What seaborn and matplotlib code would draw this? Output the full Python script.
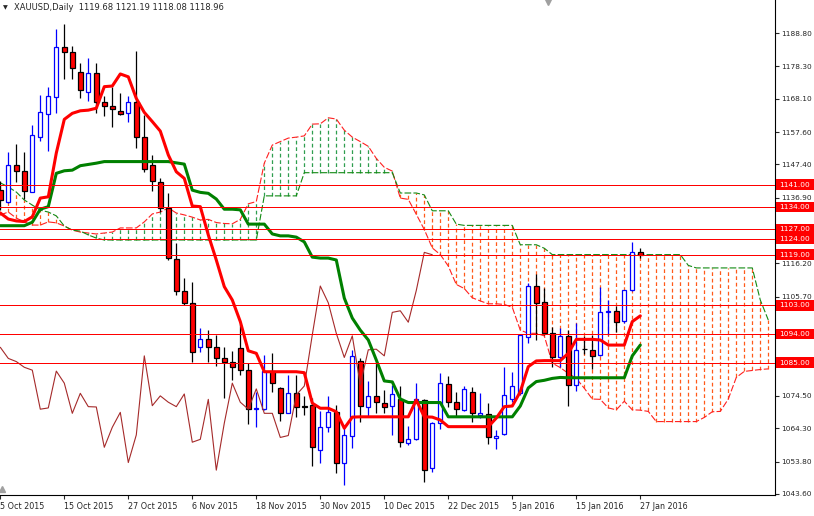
import matplotlib
matplotlib.use("Agg")
import matplotlib.pyplot as plt
import matplotlib.transforms as mtransforms
from matplotlib.patches import Rectangle
import seaborn as sns
import numpy as np

sns.set_style("white")
plt.rcParams['font.family'] = ['DejaVu Sans']

# daily XAUUSD bars, 5 Oct 2015 .. 27 Jan 2016
date_labels = ["5 Oct 2015", "15 Oct 2015", "27 Oct 2015", "6 Nov 2015", "18 Nov 2015",
               "30 Nov 2015", "10 Dec 2015", "22 Dec 2015", "5 Jan 2016", "15 Jan 2016",
               "27 Jan 2016"]

opens = [1139.4, 1135.7, 1147.1, 1145.2, 1138.8, 1155.9, 1163.2, 1168.5, 1184.3, 1182.7,
         1176.5, 1170.3, 1176.2, 1167.1, 1165.8, 1164.3, 1163.5, 1167.0, 1155.9, 1147.1,
         1141.8, 1133.6, 1117.5, 1107.6, 1103.7, 1090.0, 1092.3, 1089.8, 1086.3, 1085.1,
         1089.5, 1082.6, 1070.5, 1070.4, 1082.3, 1076.9, 1069.0, 1075.3, 1071.2, 1071.6,
         1057.4, 1064.8, 1069.3, 1053.2, 1062.0, 1085.6, 1071.1, 1074.5, 1072.4, 1071.4,
         1073.4, 1059.5, 1060.8, 1073.2, 1051.7, 1065.9, 1078.1, 1072.5, 1070.0, 1075.6,
         1068.6, 1068.7, 1061.1, 1062.4, 1073.4, 1075.5, 1093.1, 1109.1, 1104.0, 1094.2,
         1086.8, 1093.4, 1078.0, 1089.3, 1089.0, 1087.4, 1100.8, 1101.2, 1098.0, 1107.7,
         1119.68]
highs = [1142.2, 1151.2, 1153.8, 1151.3, 1159.8, 1169.3, 1171.7, 1190.1, 1191.6, 1184.7,
         1179.3, 1180.9, 1179.4, 1169.0, 1171.7, 1169.8, 1169.0, 1183.1, 1163.0, 1150.4,
         1143.2, 1138.3, 1122.6, 1111.5, 1110.5, 1095.8, 1095.2, 1093.7, 1090.0, 1088.6,
         1097.1, 1084.8, 1075.8, 1087.4, 1088.1, 1077.2, 1081.1, 1081.1, 1074.5, 1073.7,
         1069.7, 1074.5, 1071.6, 1065.3, 1089.0, 1086.3, 1079.2, 1084.8, 1076.5, 1077.9,
         1077.6, 1065.0, 1078.5, 1073.5, 1066.4, 1081.6, 1080.8, 1075.8, 1077.6, 1077.4,
         1075.5, 1072.1, 1063.7, 1083.7, 1082.1, 1093.8, 1110.2, 1112.8, 1108.4, 1096.3,
         1095.8, 1095.2, 1097.3, 1093.4, 1093.7, 1108.7, 1104.7, 1102.8, 1107.8, 1123.1,
         1121.19]
lows = [1133.0, 1135.2, 1141.8, 1136.5, 1138.7, 1154.9, 1151.7, 1163.5, 1174.4, 1174.4,
        1168.3, 1167.5, 1163.7, 1162.7, 1159.1, 1163.0, 1160.9, 1152.5, 1145.1, 1139.1,
        1132.5, 1117.3, 1106.3, 1103.1, 1085.1, 1088.4, 1085.1, 1084.0, 1073.9, 1079.5,
        1081.1, 1065.5, 1064.8, 1070.2, 1075.8, 1066.7, 1069.0, 1067.7, 1068.5, 1052.5,
        1053.2, 1063.2, 1050.3, 1046.4, 1058.0, 1066.4, 1068.3, 1069.0, 1069.2, 1062.2,
        1058.5, 1059.0, 1060.5, 1047.5, 1050.6, 1064.0, 1071.1, 1068.3, 1069.8, 1066.4,
        1067.4, 1059.2, 1057.7, 1062.2, 1072.7, 1074.8, 1091.2, 1092.1, 1093.7, 1083.5,
        1083.5, 1071.3, 1076.1, 1087.7, 1083.0, 1087.2, 1093.7, 1094.7, 1097.3, 1107.5,
        1118.08]
closes = [1136.2, 1147.1, 1145.2, 1138.9, 1156.7, 1163.9, 1168.9, 1184.3, 1182.9, 1177.7,
          1170.8, 1176.2, 1167.0, 1165.7, 1164.8, 1163.2, 1167.0, 1155.9, 1145.9, 1142.1,
          1133.6, 1117.8, 1107.6, 1103.7, 1088.4, 1092.3, 1089.8, 1086.3, 1085.3, 1083.5,
          1082.6, 1070.3, 1070.7, 1082.3, 1078.5, 1069.0, 1075.3, 1071.1, 1071.0, 1058.3,
          1064.6, 1069.3, 1053.5, 1062.2, 1087.1, 1071.4, 1074.5, 1072.5, 1071.1, 1075.1,
          1059.9, 1060.8, 1073.4, 1051.1, 1065.9, 1078.5, 1072.5, 1070.3, 1076.7, 1069.0,
          1069.0, 1061.4, 1062.0, 1074.8, 1077.6, 1093.7, 1109.1, 1103.8, 1094.2, 1086.6,
          1093.4, 1078.0, 1089.0, 1089.2, 1087.1, 1100.8, 1101.3, 1097.7, 1107.7, 1119.7,
          1118.96]

# ichimoku lines
tenkan = [1132.1, 1130.2, 1129.6, 1129.4, 1130.9, 1136.8, 1137.2, 1151.0, 1161.6, 1163.5,
          1164.3, 1164.5, 1165.1, 1171.9, 1172.1, 1175.9, 1175.0, 1168.2, 1163.8, 1160.9,
          1157.9, 1150.4, 1145.1, 1143.0, 1134.3, 1134.1, 1125.2, 1117.3, 1108.9, 1104.7,
          1097.9, 1088.7, 1087.9, 1082.1, 1082.1, 1082.1, 1082.1, 1082.1, 1081.8, 1072.2,
          1070.6, 1070.6, 1069.5, 1064.3, 1067.8, 1067.9, 1067.9, 1067.9, 1067.9, 1067.9,
          1067.9, 1067.9, 1073.2, 1067.9, 1067.8, 1066.9, 1064.8, 1064.8, 1064.8, 1064.8,
          1064.8, 1064.8, 1067.5, 1071.1, 1071.3, 1075.8, 1083.7, 1085.5, 1085.6, 1085.6,
          1085.6, 1087.9, 1092.3, 1092.3, 1092.3, 1092.1, 1090.5, 1090.5, 1090.5, 1097.9,
          1099.7]
kijun = [1128.1, 1128.1, 1128.1, 1128.1, 1129.2, 1133.3, 1134.1, 1144.6, 1145.4, 1145.6,
         1147.0, 1147.4, 1147.8, 1148.3, 1148.3, 1148.3, 1148.3, 1148.3, 1148.3, 1148.3,
         1148.3, 1148.3, 1147.9, 1147.5, 1139.3, 1138.6, 1138.3, 1136.5, 1133.3, 1133.3,
         1133.1, 1128.6, 1128.6, 1128.6, 1125.5, 1124.9, 1124.9, 1124.5, 1123.0, 1118.2,
         1117.9, 1117.9, 1117.3, 1105.3, 1099.0, 1095.2, 1092.1, 1085.8, 1079.2, 1078.9,
         1073.5, 1072.4, 1072.4, 1072.4, 1072.4, 1072.4, 1067.9, 1067.9, 1067.9, 1067.9,
         1067.9, 1067.9, 1067.9, 1067.9, 1067.9, 1071.3, 1077.0, 1079.0, 1079.4, 1080.0,
         1080.3, 1080.2, 1080.2, 1080.2, 1080.2, 1080.2, 1080.2, 1080.2, 1080.2, 1087.1,
         1090.5]
span_a = [1131.5, 1132.4, 1130.5, 1129.3, 1128.3, 1128.3, 1129.3, 1129.0, 1128.0, 1126.7,
          1126.1, 1125.8, 1125.5, 1125.8, 1126.1, 1127.4, 1127.4, 1127.4, 1129.3, 1131.8,
          1132.4, 1133.7, 1132.1, 1131.5, 1130.8, 1129.9, 1130.1, 1129.1, 1128.8, 1128.7,
          1130.1, 1135.0, 1135.7, 1147.8, 1153.5, 1154.6, 1155.7, 1156.0, 1156.4, 1160.1,
          1160.2, 1162.1, 1161.7, 1158.2, 1156.0, 1154.6, 1153.1, 1149.3, 1146.5, 1145.3,
          1136.8, 1136.4, 1131.7, 1126.9, 1121.1, 1119.0, 1115.4, 1109.6, 1108.3, 1105.4,
          1104.4, 1103.5, 1103.5, 1103.3, 1102.4, 1095.2, 1094.2, 1094.2, 1093.4, 1084.8,
          1083.4, 1081.6, 1080.0, 1076.9, 1073.5, 1073.4, 1070.7, 1070.1, 1072.8, 1070.1,
          1070.0, 1069.6, 1066.4, 1066.4, 1066.4, 1066.4, 1066.4, 1066.4, 1067.7, 1069.5,
          1069.6, 1073.5, 1080.3, 1082.2, 1082.5, 1082.8, 1083.0]
span_b = [1141.6, 1140.3, 1138.7, 1136.2, 1134.6, 1133.0, 1132.4, 1131.2, 1128.0, 1126.7,
          1126.4, 1125.2, 1124.2, 1123.6, 1123.6, 1123.6, 1123.6, 1123.6, 1123.6, 1123.6,
          1123.6, 1123.6, 1123.6, 1123.6, 1123.6, 1123.6, 1123.6, 1123.6, 1123.6, 1123.6,
          1123.6, 1123.6, 1123.6, 1137.5, 1137.5, 1137.5, 1137.5, 1137.5, 1144.8, 1144.8,
          1144.8, 1144.8, 1144.8, 1144.8, 1144.8, 1144.8, 1144.8, 1144.8, 1144.8, 1144.8,
          1138.4, 1138.4, 1138.4, 1137.8, 1132.8, 1132.8, 1132.8, 1128.6, 1128.2, 1128.2,
          1128.2, 1128.2, 1128.2, 1128.2, 1128.2, 1122.1, 1122.1, 1122.1, 1121.0, 1119.0,
          1119.0, 1119.0, 1119.0, 1119.0, 1119.0, 1119.0, 1119.0, 1119.0, 1119.0, 1119.0,
          1119.0, 1119.0, 1119.0, 1119.0, 1119.0, 1119.0, 1115.6, 1114.8, 1114.8, 1114.8,
          1114.8, 1114.8, 1114.8, 1114.8, 1114.8, 1104.7, 1098.4]

levels = [1141.0, 1134.0, 1127.0, 1124.0, 1119.0, 1103.0, 1094.0, 1085.0]
price_ticks = [1188.8, 1178.3, 1168.1, 1157.6, 1147.4, 1136.9, 1126.4, 1116.2, 1105.7,
               1095.2, 1085.0, 1074.5, 1064.3, 1053.8, 1043.6]
# these three sit under the level boxes in the original
hidden_ticks = [1126.4, 1095.2, 1085.0]

o = np.array(opens); h = np.array(highs); l = np.array(lows); c = np.array(closes)
bars = np.arange(len(c))
fut = np.arange(len(span_a))

fig = plt.figure(figsize=(8.14, 5.16), dpi=100)
ax = fig.add_axes([0, 21/516, 775/814, 495/516])

# cloud: dotted histogram between the two spans
for i in fut:
    a, b = span_a[i], span_b[i]
    col = '#2f9e4f' if a > b else '#ff5a1a'
    ax.vlines(i, min(a, b), max(a, b), colors=col, lw=0.9, linestyles=(0, (3, 2.2)), zorder=1)
sns.lineplot(x=fut, y=span_a, ax=ax, color='#ff2020', lw=0.8, linestyle=(0, (6, 2)), zorder=2)
sns.lineplot(x=fut, y=span_b, ax=ax, color='#138a13', lw=0.8, linestyle=(0, (6, 2)), zorder=2)

# candles
up = c >= o
ax.vlines(bars[up], l[up], h[up], colors='blue', lw=0.9, zorder=3)
ax.vlines(bars[~up], l[~up], h[~up], colors='black', lw=0.9, zorder=3)
ax.bar(bars[up], (c - o)[up], bottom=o[up], width=0.55, color='white',
       edgecolor='blue', lw=0.9, zorder=4)
ax.bar(bars[~up], (o - c)[~up], bottom=c[~up], width=0.6, color='red',
       edgecolor='black', lw=0.9, zorder=4)

# chikou = close shifted back 26 bars
sns.lineplot(x=bars[:-26], y=c[26:], ax=ax, color='#a52a2a', lw=0.8, zorder=5)
sns.lineplot(x=bars, y=kijun, ax=ax, color='#008000', lw=2.2, zorder=6)
sns.lineplot(x=bars, y=tenkan, ax=ax, color='#ff0000', lw=2.2, zorder=6)

for lv in levels:
    ax.axhline(lv, color='#ff0000', lw=0.5, antialiased=False, zorder=7)

ax.set_xlim(-0.0375, 96.84)
ax.set_ylim(1043.27, 1199.2)
for s in ['left', 'top']:
    ax.spines[s].set_visible(False)
for s in ['right', 'bottom']:
    ax.spines[s].set_color('black')
    ax.spines[s].set_linewidth(0.8)

ax.set_yticks(price_ticks)
ax.set_yticklabels(['' if v in hidden_ticks else f"{v:.2f}" for v in price_ticks])
ax.set_xticks(bars[::8])
ax.set_xticklabels(date_labels, ha='left')
ax.tick_params(axis='y', left=False, labelleft=False, right=True, labelright=True,
               direction='out', length=3, width=0.8, pad=1.5, labelsize=5.3)
ax.tick_params(axis='x', bottom=True, direction='out', length=3, width=0.8, pad=2,
               labelsize=5.8)
ax.set_xlabel('')
ax.set_ylabel('')

# price boxes for the horizontal levels
trans = mtransforms.blended_transform_factory(ax.transAxes, ax.transData)
for lv in levels:
    ax.add_patch(Rectangle((1.0 + 1/775, lv - 1.7), 39/775, 3.4, transform=trans,
                           fc='#ff0000', ec='none', clip_on=False, zorder=10))
    ax.text(1.0 + 4/775, lv, f"{lv:.2f}", transform=trans, color='white', fontsize=5.3,
            va='center', ha='left', zorder=11, clip_on=False)

# chart-shift marker at the top and the corner marker bottom left
ax.plot([548/775], [0.995], transform=ax.transAxes, marker='v', ms=5, color='#a0a0a0',
        clip_on=False, zorder=12)
ax.plot([2/775], [0.012], transform=ax.transAxes, marker='^', ms=5, color='#a0a0a0',
        clip_on=False, zorder=12)

fig.text(3/814, 1 - 8/516, "\u25bc", fontsize=4.5, va='center', ha='left')
fig.text(14/814, 1 - 8/516, "XAUUSD,Daily  1119.68 1121.19 1118.08 1118.96",
         fontsize=6, va='center', ha='left')

fig.savefig('out.png', dpi=100)
